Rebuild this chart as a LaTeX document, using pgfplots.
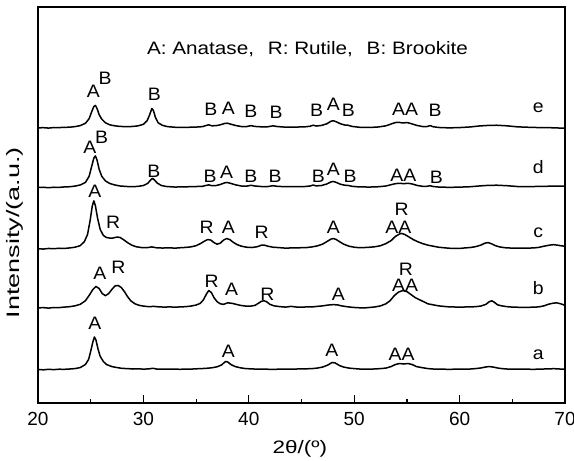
\documentclass[border=0pt]{standalone}
\usepackage{fontspec}
\setmainfont{Liberation Sans}
\usepackage{graphicx}
\usepackage{pgfplots}
\usepackage{pgfplotstable}
\pgfplotsset{compat=1.18}
\usetikzlibrary{calc}

\pgfplotstableread[row sep=\\]{x y\\
20 0.2\\ 20.5 -0.2\\ 21 0.3\\ 21.5 0\\ 22 0.4\\ 22.5 0.3\\ 23 0.6\\ 23.5 1.0\\ 24 2\\ 24.5 5\\ 24.8 10\\ 25.0 18\\ 25.2 27\\ 25.35 32\\ 25.5 29\\ 25.7 20\\ 25.9 13\\ 26.2 8\\ 26.5 5\\ 27 3\\ 27.5 2\\ 28 1.2\\ 28.5 1\\ 29 0.6\\ 29.5 0.8\\ 30 0.5\\ 30.5 0.7\\ 30.9 1.3\\ 31.3 0.5\\ 32 0.4\\ 33 0.5\\ 33.5 0.3\\ 34 0.6\\ 34.5 0.5\\ 35 0.8\\ 35.5 1\\ 36 1.3\\ 36.5 1.8\\ 37 2.8\\ 37.4 4.5\\ 37.8 8\\ 38.0 7.5\\ 38.3 5\\ 38.7 3\\ 39.2 1.8\\ 39.7 1\\ 40.5 0.6\\ 41 0.4\\ 41.5 0.5\\ 42 0.3\\ 43 0.4\\ 44 0.5\\ 45 0.7\\ 45.5 0.8\\ 46 1\\ 46.5 1.5\\ 47 2.5\\ 47.5 4.5\\ 47.9 7\\ 48.2 6.5\\ 48.6 4\\ 49 2.5\\ 49.5 1.5\\ 50 1\\ 50.5 0.6\\ 51 0.5\\ 51.5 0.4\\ 52 0.7\\ 52.5 1\\ 53 1.5\\ 53.5 3\\ 53.9 5\\ 54.3 6\\ 54.7 5.5\\ 55.1 6\\ 55.5 5\\ 55.9 3\\ 56.4 2\\ 57 1\\ 57.5 0.6\\ 58 0.5\\ 59 0.3\\ 60 0.5\\ 61 0.6\\ 61.5 1\\ 62 1.6\\ 62.5 2.6\\ 62.8 3\\ 63.2 2.5\\ 63.6 1.6\\ 64 1\\ 64.5 0.6\\ 65 0.4\\ 66 0.5\\ 67 0.3\\ 68 0.6\\ 68.5 0.8\\ 69 0.9\\ 69.5 0.6\\ 70 0.5\\
}\curvea

\pgfplotstableread[row sep=\\]{x y\\
20 0\\ 20.5 0.3\\ 21 -0.2\\ 21.5 0.4\\ 22 0.3\\ 22.5 0.8\\ 23 1.2\\ 23.5 2\\ 24 3.5\\ 24.5 7\\ 24.9 13\\ 25.2 18\\ 25.5 21\\ 25.8 19\\ 26.1 14\\ 26.4 12\\ 26.7 14\\ 27.0 18\\ 27.3 21.5\\ 27.6 22\\ 27.9 20\\ 28.2 16\\ 28.5 11\\ 28.8 7\\ 29.2 4\\ 29.6 2.5\\ 30 1.8\\ 30.5 1.2\\ 31 1.5\\ 31.5 1\\ 32 0.8\\ 32.5 1\\ 33 0.7\\ 33.5 1\\ 34 1.2\\ 34.5 1.8\\ 35 2.8\\ 35.4 4.5\\ 35.7 8\\ 36.0 14\\ 36.2 17\\ 36.45 15\\ 36.7 10\\ 37.0 6\\ 37.3 4\\ 37.6 3.5\\ 38.0 5\\ 38.4 4.5\\ 38.8 3.5\\ 39.2 2.5\\ 39.7 1.8\\ 40.2 1.8\\ 40.6 2.5\\ 40.9 4.5\\ 41.2 6.5\\ 41.45 7\\ 41.7 6\\ 42.0 3.5\\ 42.4 2\\ 43 1.2\\ 43.5 0.8\\ 44 1.5\\ 44.5 0.9\\ 45 0.7\\ 45.5 1\\ 46 1\\ 46.5 1.5\\ 47 2\\ 47.5 2.8\\ 48 3.2\\ 48.4 3\\ 48.8 2\\ 49.3 1.2\\ 49.8 0.6\\ 50.3 0.2\\ 51 0\\ 51.5 0.5\\ 52 1\\ 52.5 2\\ 53 4\\ 53.4 7\\ 53.8 12\\ 54.2 15.5\\ 54.6 17\\ 55.0 16\\ 55.4 13\\ 55.8 10\\ 56.2 8\\ 56.6 6\\ 57 4\\ 57.5 3\\ 58 2\\ 58.5 1.5\\ 59 1\\ 60 0.8\\ 61 1\\ 61.5 1.2\\ 62 1.8\\ 62.5 3.5\\ 62.8 6\\ 63.05 7\\ 63.3 5.5\\ 63.6 3\\ 64 2\\ 64.5 1.2\\ 65 0.8\\ 66 0.5\\ 67 0.7\\ 67.5 1\\ 68 2\\ 68.4 3.5\\ 68.8 4.5\\ 69.2 5\\ 69.6 4\\ 70 2.5\\
}\curveb

\pgfplotstableread[row sep=\\]{x y\\
20 0\\ 20.5 -0.3\\ 21 0.3\\ 21.5 0\\ 22 0.5\\ 22.5 0.3\\ 23 0.8\\ 23.5 1.5\\ 24 3\\ 24.4 7\\ 24.7 14\\ 24.95 28\\ 25.15 42\\ 25.3 47\\ 25.45 42\\ 25.65 30\\ 25.9 19\\ 26.2 13\\ 26.5 11\\ 26.8 10.5\\ 27.1 10.5\\ 27.5 11.5\\ 27.8 11\\ 28.1 9\\ 28.5 6\\ 28.9 3.5\\ 29.3 2\\ 29.8 1.2\\ 30.3 1\\ 30.8 1.8\\ 31.2 1\\ 31.8 0.7\\ 32.5 0.9\\ 33 0.6\\ 33.5 1\\ 34 1.3\\ 34.5 1.8\\ 35 3\\ 35.4 5\\ 35.8 7.5\\ 36.1 9\\ 36.4 8.5\\ 36.7 6\\ 37.0 4.5\\ 37.3 5.5\\ 37.6 8.5\\ 37.9 10\\ 38.2 9\\ 38.5 6.5\\ 38.9 4\\ 39.3 2.5\\ 39.8 1.5\\ 40.3 1.2\\ 40.8 2\\ 41.2 3.5\\ 41.5 3.5\\ 41.8 2.5\\ 42.3 1.5\\ 43 1\\ 43.5 0.6\\ 44 0.8\\ 45 1\\ 45.5 1.2\\ 46 1.8\\ 46.5 2.8\\ 47 4.5\\ 47.4 7\\ 47.8 9.5\\ 48.05 10\\ 48.3 9\\ 48.6 7\\ 49 4.5\\ 49.5 2.5\\ 50 1.5\\ 50.5 1\\ 51 1.2\\ 51.5 1.5\\ 52 2\\ 52.5 3\\ 53 5\\ 53.5 8\\ 53.9 12\\ 54.3 14.5\\ 54.5 15\\ 54.8 14\\ 55.2 11.5\\ 55.6 9\\ 56 7\\ 56.5 5\\ 57 3.5\\ 57.5 2.5\\ 58 1.5\\ 58.5 1\\ 59 0.5\\ 60 0.3\\ 60.5 0.8\\ 61 1.2\\ 61.5 2\\ 62 3.5\\ 62.4 5.5\\ 62.7 6\\ 63.0 5\\ 63.4 3\\ 63.8 1.8\\ 64.3 1\\ 65 0.6\\ 66 0.5\\ 67 0.8\\ 67.5 1.3\\ 68 2.5\\ 68.5 3.5\\ 68.9 4\\ 69.3 3.5\\ 69.7 2.8\\ 70 2.5\\
}\curvec

\pgfplotstableread[row sep=\\]{x y\\
20 0\\ 20.5 0.3\\ 21 -0.2\\ 21.5 0.3\\ 22 0.2\\ 22.5 0.6\\ 23 0.8\\ 23.5 1.4\\ 24 2.5\\ 24.5 5\\ 24.85 11\\ 25.1 21\\ 25.3 29\\ 25.45 31\\ 25.6 27\\ 25.8 18\\ 26.05 11\\ 26.4 6.5\\ 26.8 4\\ 27.3 2.5\\ 27.8 1.5\\ 28.5 1\\ 29 0.8\\ 29.5 1.2\\ 30 2\\ 30.4 4\\ 30.7 7.5\\ 30.85 9\\ 31.0 8\\ 31.3 4.5\\ 31.7 2\\ 32.2 1\\ 33 0.5\\ 34 0.7\\ 35 1\\ 35.6 1.2\\ 35.9 2\\ 36.2 2.6\\ 36.5 1.8\\ 36.9 2\\ 37.3 3\\ 37.7 4.6\\ 37.95 5\\ 38.3 4\\ 38.8 2.5\\ 39.3 1.5\\ 39.8 1.4\\ 40.2 2.2\\ 40.6 1.5\\ 41.2 1\\ 41.8 1\\ 42.3 1.8\\ 42.7 1.2\\ 43.5 0.8\\ 44.5 0.9\\ 45.3 1\\ 45.8 1.5\\ 46.1 2.4\\ 46.4 1.6\\ 46.9 2\\ 47.4 3.5\\ 47.8 5.5\\ 48.0 6\\ 48.3 5\\ 48.7 3.2\\ 49.1 2.3\\ 49.4 2.1\\ 49.8 1.2\\ 50.5 0.6\\ 51.5 0.5\\ 52.3 0.8\\ 53 1.5\\ 53.5 2.8\\ 53.9 3.8\\ 54.3 4.2\\ 54.7 3.8\\ 55.1 4.2\\ 55.5 3.5\\ 56 2\\ 56.5 1.2\\ 56.9 1.2\\ 57.2 1.8\\ 57.5 1\\ 58 0.5\\ 59 0.2\\ 60 0.4\\ 61 0.8\\ 61.8 1.5\\ 62.5 2\\ 63.5 2.3\\ 64.5 1.8\\ 65.5 1\\ 66.5 0.9\\ 67.5 1.1\\ 68.5 1.3\\ 69.3 1.4\\ 70 1.5\\
}\curved

\pgfplotstableread[row sep=\\]{x y\\
20 0\\ 20.5 0.2\\ 21 -0.2\\ 21.5 0.3\\ 22 0.3\\ 22.5 0.5\\ 23 0.7\\ 23.5 1.2\\ 24 2.2\\ 24.5 4.5\\ 24.85 9\\ 25.1 16\\ 25.3 21\\ 25.45 22\\ 25.6 19\\ 25.8 13\\ 26.05 8.5\\ 26.4 5\\ 26.8 3\\ 27.3 2\\ 27.8 1.4\\ 28.5 1.2\\ 29 1.4\\ 29.5 2\\ 30 3.5\\ 30.35 7\\ 30.6 13\\ 30.8 19\\ 30.95 17\\ 31.15 10\\ 31.4 5\\ 31.8 2.5\\ 32.3 1.2\\ 33 0.6\\ 34 0.5\\ 35 0.8\\ 35.6 1.2\\ 35.9 2.2\\ 36.2 3\\ 36.5 2\\ 36.9 2.2\\ 37.3 3\\ 37.7 4.3\\ 37.95 4.6\\ 38.3 3.6\\ 38.8 2.2\\ 39.3 1.3\\ 39.8 1.3\\ 40.2 2.2\\ 40.6 1.4\\ 41.2 1\\ 41.8 1.1\\ 42.3 2\\ 42.7 1.3\\ 43.5 0.7\\ 44.5 0.8\\ 45.3 1\\ 45.8 1.6\\ 46.1 2.6\\ 46.4 1.8\\ 46.9 2.4\\ 47.4 4\\ 47.8 6.5\\ 48.0 7\\ 48.3 6\\ 48.7 4\\ 49.1 2.8\\ 49.4 2.6\\ 49.8 1.4\\ 50.5 0.6\\ 51.5 0.4\\ 52.3 0.9\\ 53 2\\ 53.5 3.8\\ 53.9 5.2\\ 54.2 5.5\\ 54.6 4.8\\ 55.0 5.2\\ 55.4 4.2\\ 55.9 2.5\\ 56.5 1.3\\ 56.9 1.3\\ 57.2 2.2\\ 57.5 1.1\\ 58 0.4\\ 59 0\\ 60 0.3\\ 61 0.9\\ 61.8 1.8\\ 62.5 2.3\\ 63.5 2.6\\ 64.5 2\\ 65.5 1\\ 66.5 0.6\\ 67.5 0.3\\ 68.5 0.2\\ 69.3 -0.1\\ 70 -0.3\\
}\curvee

\newcommand{\pk}[1]{\scalebox{1.08}[1]{#1}}

\begin{document}
\fontsize{9}{11}\selectfont
\begin{tikzpicture}[font=\fontsize{9}{11}\selectfont]
\begin{axis}[
  name=ax,
  scale only axis,
  width=263.5pt, height=194pt,
  xmin=20, xmax=70, ymin=5, ymax=393,
  clip=false,
  axis line style={line width=0.8pt},
  xtick={20,30,...,70},
  minor xtick={25,35,...,65},
  xtick pos=bottom,
  ytick=\empty,
  tick align=inside,
  major tick length=3.8pt,
  minor tick length=2pt,
  every tick/.style={black, line width=0.6pt},
  /pgf/number format/assume math mode=true,
  xticklabel style={yshift=-1.5pt, font=\fontsize{9.5}{11}\selectfont},
  xlabel={\scalebox{1.25}[1]{2θ/(º)}},
  ylabel={\scalebox{1.5}[1]{Intensity/(a.u.)}},
  xlabel style={at={(axis description cs:0.497,-0.116)}, anchor=center},
  ylabel style={at={(axis description cs:-0.044,0.43)}, anchor=center},
]
\addplot[black, no marks, line width=0.75pt, line join=round] table[x=x, y expr=\thisrow{y}+37.5] {\curvea};
\addplot[black, no marks, line width=0.75pt, line join=round] table[x=x, y expr=\thisrow{y}+98] {\curveb};
\addplot[black, no marks, line width=0.75pt, line join=round] table[x=x, y expr=\thisrow{y}+156] {\curvec};
\addplot[black, no marks, line width=0.75pt, line join=round] table[x=x, y expr=\thisrow{y}+216] {\curved};
\addplot[black, no marks, line width=0.75pt, line join=round] table[x=x, y expr=\thisrow{y}+274.5] {\curvee};

\node at (axis cs:45.57,352) {\scalebox{1.15}[1]{A: Anatase,\hspace{6pt}R: Rutile,\hspace{6pt}B: Brookite}};

% e
\node at (axis cs:25.25,310) {\pk{A}};
\node at (axis cs:26.36,323) {\pk{B}};
\node at (axis cs:31.03,307) {\pk{B}};
\node at (axis cs:36.41,293) {\pk{B}};
\node at (axis cs:38.06,294) {\pk{A}};
\node at (axis cs:40.2,291) {\pk{B}};
\node at (axis cs:42.58,290) {\pk{B}};
\node at (axis cs:46.44,292) {\pk{B}};
\node at (axis cs:48.02,298) {\pk{A}};
\node at (axis cs:49.44,292) {\pk{B}};
\node at (axis cs:54.82,293) {\pk{AA}};
\node at (axis cs:57.67,292) {\pk{B}};
\node at (axis cs:67.47,294) {\pk{e}};
% d
\node at (axis cs:24.93,255) {\pk{A}};
\node at (axis cs:26.04,265) {\pk{B}};
\node at (axis cs:31.0,232) {\pk{B}};
\node at (axis cs:36.32,227) {\pk{B}};
\node at (axis cs:37.9,231) {\pk{A}};
\node at (axis cs:40.2,227) {\pk{B}};
\node at (axis cs:42.5,227) {\pk{B}};
\node at (axis cs:46.6,227) {\pk{B}};
\node at (axis cs:48.02,234) {\pk{A}};
\node at (axis cs:49.6,227) {\pk{B}};
\node at (axis cs:54.66,228) {\pk{AA}};
\node at (axis cs:57.8,226) {\pk{B}};
\node at (axis cs:67.47,236) {\pk{d}};
% c
\node at (axis cs:25.4,212) {\pk{A}};
\node at (axis cs:27.14,182) {\pk{R}};
\node at (axis cs:36.0,177) {\pk{R}};
\node at (axis cs:38.06,177) {\pk{A}};
\node at (axis cs:41.22,172) {\pk{R}};
\node at (axis cs:48.02,177) {\pk{A}};
\node at (axis cs:54.18,177) {\pk{AA}};
\node at (axis cs:54.5,195) {\pk{R}};
\node at (axis cs:67.47,172) {\pk{c}};
% b
\node at (axis cs:25.88,132) {\pk{A}};
\node at (axis cs:27.62,138) {\pk{R}};
\node at (axis cs:36.48,124) {\pk{R}};
\node at (axis cs:38.38,116) {\pk{A}};
\node at (axis cs:41.76,111) {\pk{R}};
\node at (axis cs:48.49,111) {\pk{A}};
\node at (axis cs:54.82,120) {\pk{AA}};
\node at (axis cs:54.91,136) {\pk{R}};
\node at (axis cs:67.47,117) {\pk{b}};
% a
\node at (axis cs:25.4,83) {\pk{A}};
\node at (axis cs:38.06,55) {\pk{A}};
\node at (axis cs:47.87,56) {\pk{A}};
\node at (axis cs:54.5,53) {\pk{AA}};
\node at (axis cs:67.47,52) {\pk{a}};
\end{axis}
\pgfresetboundingbox
\path[use as bounding box] ($(ax.south west)+(-19pt,-29pt)$) rectangle ($(ax.north east)+(4.5pt,3.5pt)$);
\end{tikzpicture}
\end{document}
